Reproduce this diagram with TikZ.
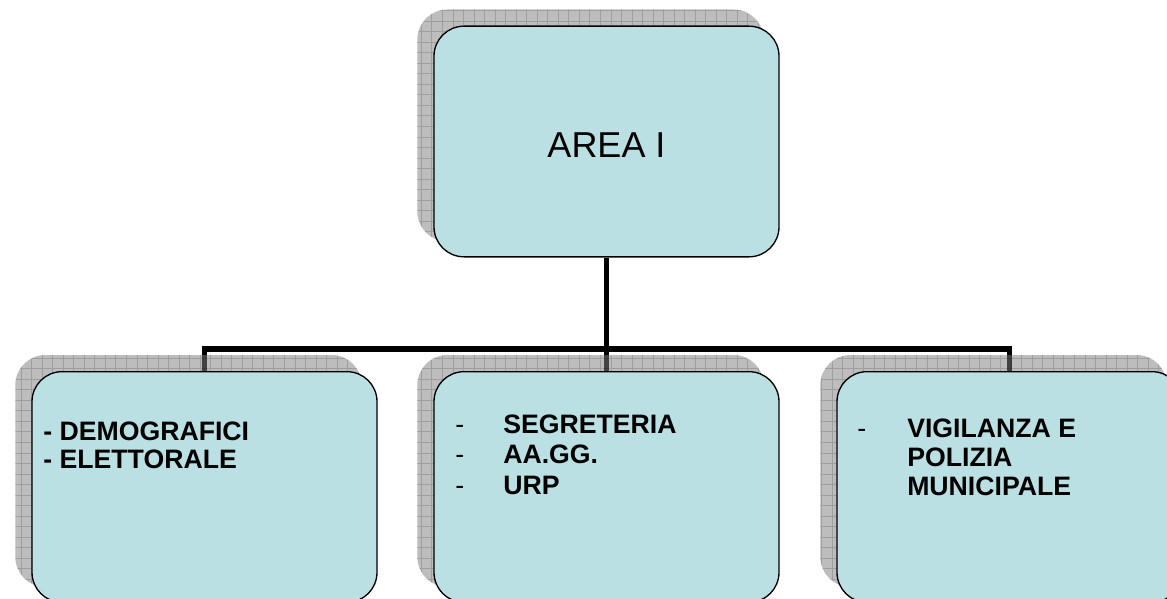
\documentclass[tikz,border=0pt]{standalone}
\usepackage{fontspec}
\setmainfont{Liberation Sans}
\definecolor{boxfill}{RGB}{187,224,227}
\definecolor{shadowgray}{RGB}{128,128,128}
\tikzset{
  unitbox/.style={draw=black, line width=1pt, fill=boxfill, rounded corners=22.5pt,
    minimum width=258.75pt, minimum height=173pt, inner sep=0pt},
  conn/.style={line width=4.2pt, black},
  bigtxt/.style={font=\fontsize{27}{32}\selectfont, inner sep=0pt},
  itemtxt/.style={font=\fontsize{20}{24}\selectfont\bfseries, inner sep=0pt, anchor=base west},
  dashtxt/.style={font=\fontsize{20}{24}\selectfont, inner sep=0pt, anchor=base west},
}
\newcommand{\shadowof}[1]{%
  \begin{scope}
    \clip[rounded corners=22.5pt] ([shift={(-16,-16)}]#1.south west) rectangle ([shift={(-16,-16)}]#1.north east);
    \fill[shadowgray, fill opacity=0.52] ([shift={(-16,-16)}]#1.south west) rectangle ([shift={(-16,-16)}]#1.north east);
    \draw[black, opacity=0.16, line width=0.6pt, step=7.9pt] ([shift={(-24,24)}]#1.south west) grid ([shift={(0,-24)}]#1.north east);
  \end{scope}}
\begin{document}
\begin{tikzpicture}[x=0.75pt,y=-0.75pt]
\useasboundingbox (0,0) rectangle (1167,599);
\clip (0,0) rectangle (1167,599);
% node placement (drawn later in proper order)
\path (606.5,141.5) node[unitbox, draw=none, fill=none] (top) {};
\path (204.5,487) node[unitbox, draw=none, fill=none] (l) {};
\path (606.5,487) node[unitbox, draw=none, fill=none] (m) {};
\path (1009.5,487) node[unitbox, draw=none, fill=none] (r) {};
\coordinate (j) at (606.5,349);
% connectors
\draw[conn] (top.south) -- (m.north);
\draw[conn] (l.north) -- (l.north |- j) -- (r.north |- j) -- (r.north);
% shadows
\shadowof{top}
\shadowof{l}
\shadowof{m}
\shadowof{r}
% boxes
\node[unitbox] (topbox) at (top) {};
\node[unitbox] (lbox) at (l) {};
\node[unitbox] (mbox) at (m) {};
\node[unitbox] (rbox) at (r) {};
% texts
\node[bigtxt, anchor=base] (t0) at (606.5,158) {AREA I};
\node[itemtxt] (l1) at (43,440) {- DEMOGRAFICI};
\node[itemtxt] (l2) at (43,468) {- ELETTORALE};
\node[dashtxt] (md1) at (455,433) {-};
\node[dashtxt] (md2) at (455,463) {-};
\node[dashtxt] (md3) at (455,494) {-};
\node[itemtxt] (m1) at (503,433) {SEGRETERIA};
\node[itemtxt] (m2) at (503,463) {AA.GG.};
\node[itemtxt] (m3) at (503,494) {URP};
\node[dashtxt] (rd1) at (857,437) {-};
\node[itemtxt] (r1) at (907,437) {VIGILANZA E};
\node[itemtxt] (r2) at (907,466) {POLIZIA};
\node[itemtxt] (r3) at (907,495) {MUNICIPALE};
\end{tikzpicture}
\end{document}
